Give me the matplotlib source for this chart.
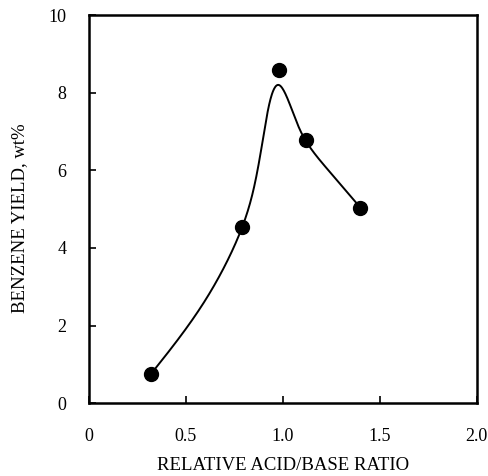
import numpy as np
import matplotlib
matplotlib.use("Agg")
import matplotlib.pyplot as plt

# measured points
ratio = [0.32, 0.79, 0.98, 1.12, 1.40]
yield_pct = [0.75, 4.53, 8.60, 6.78, 5.04]

# hand-drawn trend line
curve_x = [0.32, 0.60, 0.79, 0.898, 0.981, 1.071, 1.12, 1.253, 1.40]
curve_y = [0.75, 2.65, 4.53, 6.82, 8.20, 7.25, 6.75, 5.90, 5.04]

xticks = [0, 0.5, 1.0, 1.5, 2.0]
xtick_labels = ["0", "0.5", "1.0", "1.5", "2.0"]
yticks = [0, 2, 4, 6, 8, 10]


def natural_spline(t, v, tt):
    n = len(t)
    h = np.diff(t)
    A = np.zeros((n, n))
    r = np.zeros(n)
    A[0, 0] = A[-1, -1] = 1.0
    for i in range(1, n - 1):
        A[i, i - 1] = h[i - 1]
        A[i, i] = 2 * (h[i - 1] + h[i])
        A[i, i + 1] = h[i]
        r[i] = 6 * ((v[i + 1] - v[i]) / h[i] - (v[i] - v[i - 1]) / h[i - 1])
    M = np.linalg.solve(A, r)
    k = np.clip(np.searchsorted(t, tt) - 1, 0, n - 2)
    d = tt - t[k]
    hk = h[k]
    b = (v[k + 1] - v[k]) / hk - hk * (2 * M[k] + M[k + 1]) / 6
    return v[k] + b * d + M[k] / 2 * d ** 2 + (M[k + 1] - M[k]) / (6 * hk) * d ** 3


def smooth_curve(xs, ys, sx=192.0, sy=39.0, n=400):
    px = np.asarray(xs) * sx
    py = np.asarray(ys) * sy
    t = np.concatenate([[0], np.cumsum(np.hypot(np.diff(px), np.diff(py)))])
    tt = np.linspace(0, t[-1], n)
    return natural_spline(t, px, tt) / sx, natural_spline(t, py, tt) / sy


plt.rcParams["font.family"] = ["Liberation Serif", "DejaVu Serif"]

fig = plt.figure(figsize=(4.88, 4.76), dpi=100)
ax = fig.add_axes([0.182, 0.153, 0.795, 0.815])

cx, cy = smooth_curve(curve_x, curve_y)
ax.plot(cx, cy, color="black", lw=1.4)
ax.plot(ratio, yield_pct, "o", color="black", ms=10)

ax.set_xlim(0, 2.0)
ax.set_ylim(0, 10)
ax.set_xticks(xticks)
ax.set_xticklabels(xtick_labels)
ax.set_yticks(yticks)
ax.tick_params(direction="in", length=5, width=1.2, labelsize=13)
ax.tick_params(axis="x", pad=18)
ax.tick_params(axis="y", pad=16)
for s in ax.spines.values():
    s.set_linewidth(1.8)

fig.text(283 / 488, 2 / 476, "RELATIVE ACID/BASE RATIO", fontsize=13.5,
         ha="center", va="bottom")
fig.text(20 / 488, 1 - 218 / 476, "BENZENE YIELD, wt%", fontsize=13.5,
         ha="center", va="center", rotation=90)

fig.savefig("out.png", dpi=100, facecolor="white")
